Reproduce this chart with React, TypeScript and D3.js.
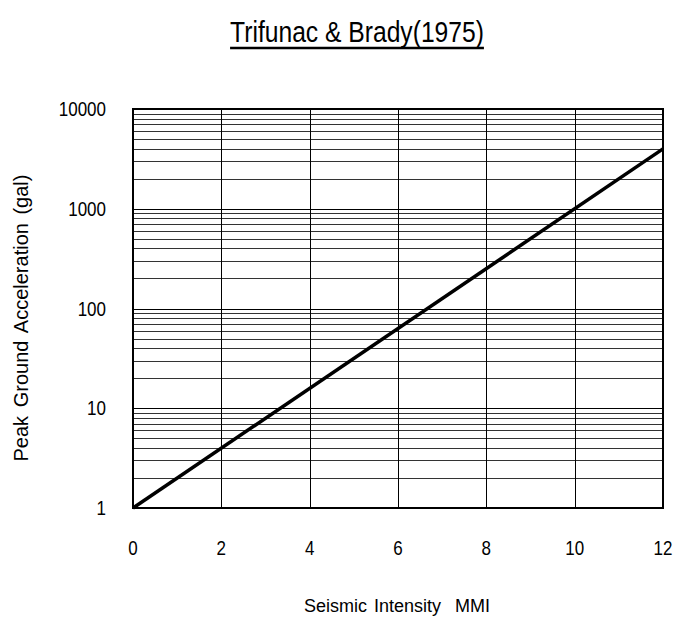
import { useEffect, useRef } from "react";
import * as d3 from "d3";

// Trifunac & Brady (1975): log10(PGA) = 0.3 * MMI
const mmi = [0, 12];
const pga = [1, 3981];
const xTicks = [0, 2, 4, 6, 8, 10, 12];
const yTicks = [1, 10, 100, 1000, 10000];

const FONT = "'Liberation Sans', Arial, sans-serif";
const SX = 0.85; // squeeze glyphs to mimic a narrow face

export default function App() {
  const svgRef = useRef<SVGSVGElement | null>(null);

  useEffect(() => {
    const width = 677;
    const height = 619;
    const margin = { top: 109, right: 14, bottom: 111, left: 133 };

    const svg = d3.select(svgRef.current)
      .attr("width", width)
      .attr("height", height)
      .style("background", "#ffffff");

    svg.selectAll("*").remove();

    const x = d3.scaleLinear()
      .domain([0, 12])
      .range([margin.left, width - margin.right]);

    const y = d3.scaleLog()
      .domain([1, 10000])
      .range([height - margin.bottom, margin.top]);

    // minor horizontal grid (2..9 in each decade)
    const minor: number[] = [];
    for (let d = 1; d < 10000; d *= 10) {
      for (let k = 2; k <= 9; k++) minor.push(d * k);
    }

    svg.append("g")
      .selectAll("line")
      .data(minor)
      .join("line")
      .attr("x1", x(0))
      .attr("x2", x(12))
      .attr("y1", d => Math.round(y(d)) + 0.5)
      .attr("y2", d => Math.round(y(d)) + 0.5)
      .attr("stroke", "#333")
      .attr("stroke-width", 1);

    // decade lines
    svg.append("g")
      .selectAll("line")
      .data(yTicks)
      .join("line")
      .attr("x1", x(0))
      .attr("x2", x(12))
      .attr("y1", d => Math.round(y(d)) + 0.5)
      .attr("y2", d => Math.round(y(d)) + 0.5)
      .attr("stroke", "#000")
      .attr("stroke-width", 1);

    // vertical grid
    svg.append("g")
      .selectAll("line")
      .data(xTicks)
      .join("line")
      .attr("x1", d => Math.round(x(d)) + 0.5)
      .attr("x2", d => Math.round(x(d)) + 0.5)
      .attr("y1", y(10000))
      .attr("y2", y(1))
      .attr("stroke", "#000")
      .attr("stroke-width", 1);

    // frame
    svg.append("rect")
      .attr("x", x(0))
      .attr("y", y(10000))
      .attr("width", x(12) - x(0))
      .attr("height", y(1) - y(10000))
      .attr("fill", "none")
      .attr("stroke", "#000")
      .attr("stroke-width", 2);

    // tick labels
    svg.append("g")
      .selectAll("text")
      .data(xTicks)
      .join("text")
      .attr("transform", d => `translate(${x(d)}, ${y(1) + 47}) scale(${SX}, 1)`)
      .attr("text-anchor", "middle")
      .attr("font-family", FONT)
      .attr("font-size", 20)
      .text(d => String(d));

    svg.append("g")
      .selectAll("text")
      .data(yTicks)
      .join("text")
      .attr("transform", d => `translate(${x(0) - 27}, ${y(d) + 7}) scale(${SX}, 1)`)
      .attr("text-anchor", "end")
      .attr("font-family", FONT)
      .attr("font-size", 20)
      .text(d => String(d));

    // curve
    const line = d3.line<number>()
      .x((_, i) => x(mmi[i]))
      .y(d => y(d));

    svg.append("path")
      .datum(pga)
      .attr("fill", "none")
      .attr("stroke", "#000")
      .attr("stroke-width", 3.5)
      .attr("d", line);

    // title
    const title = svg.append("text")
      .attr("transform", `translate(357, 42) scale(${SX}, 1)`)
      .attr("text-anchor", "middle")
      .attr("font-family", FONT)
      .attr("font-size", 29)
      .attr("fill", "#000")
      .text("Trifunac & Brady(1975)");

    const bb = (title.node() as SVGTextElement).getBBox();
    svg.append("line")
      .attr("x1", 357 + bb.x * SX)
      .attr("x2", 357 + (bb.x + bb.width) * SX)
      .attr("y1", 48)
      .attr("y2", 48)
      .attr("stroke", "#000")
      .attr("stroke-width", 2.5);

    svg.append("text")
      .attr("x", 397)
      .attr("y", 612)
      .attr("text-anchor", "middle")
      .attr("font-family", FONT)
      .attr("font-size", 18)
      .attr("word-spacing", 2)
      .attr("fill", "#000")
      .attr("xml:space", "preserve")
      .text("Seismic Intensity  MMI");

    svg.append("text")
      .attr("transform", `translate(28, 318) rotate(-90)`)
      .attr("text-anchor", "middle")
      .attr("font-family", FONT)
      .attr("font-size", 20)
      .attr("word-spacing", 3)
      .attr("fill", "#000")
      .text("Peak Ground Acceleration (gal)");
  }, []);

  return <svg ref={svgRef} style={{ position: "absolute", left: 0, top: 0 }}></svg>;
}
